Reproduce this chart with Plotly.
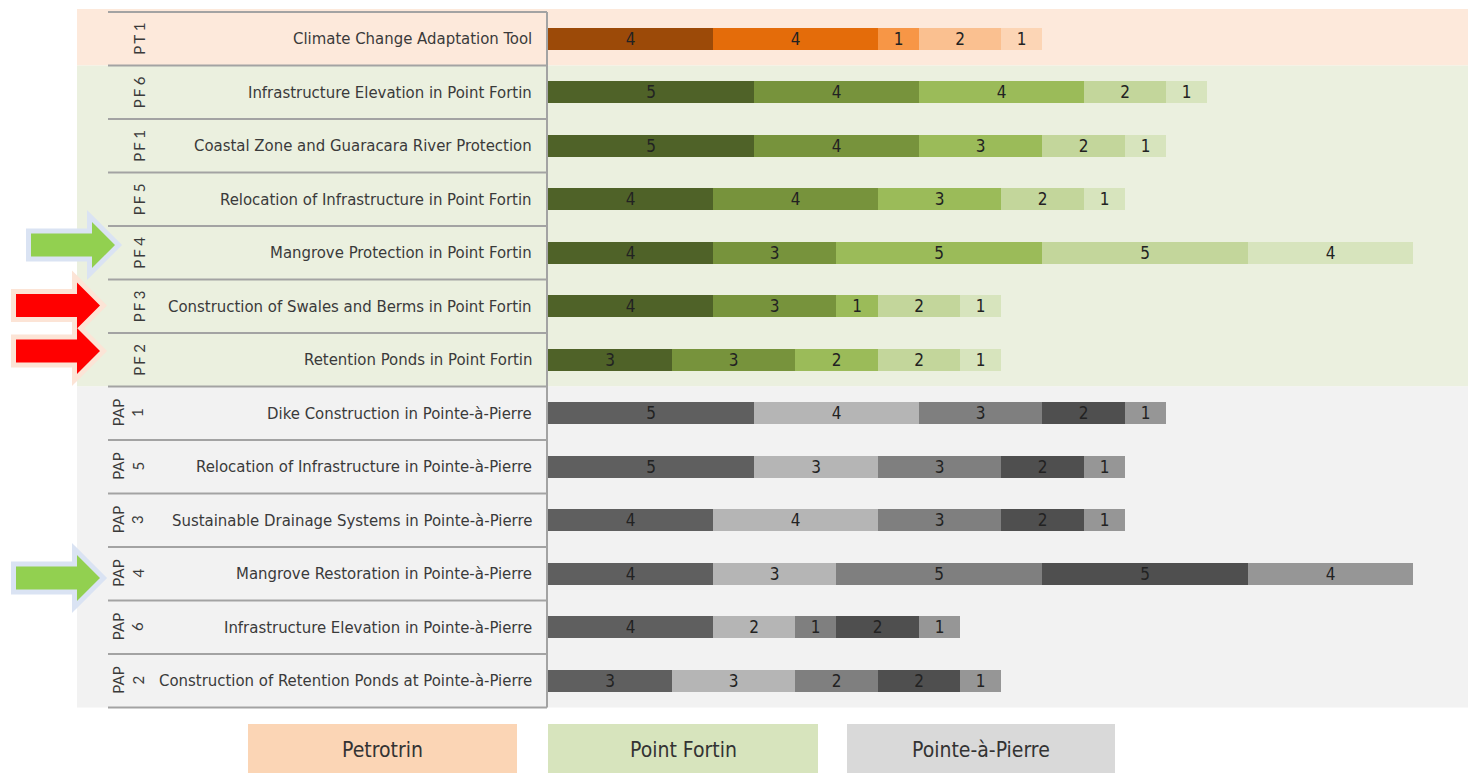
import plotly.graph_objects as go

W, H = 1468, 773

# ---------------- data ----------------
codes = ["PT 1", "PF 6", "PF 1", "PF 5", "PF 4", "PF 3", "PF 2",
         "PAP<br>1", "PAP<br>5", "PAP<br>3", "PAP<br>4", "PAP<br>6", "PAP<br>2"]
names = ["Climate Change Adaptation Tool",
         "Infrastructure Elevation in Point Fortin",
         "Coastal Zone and Guaracara River Protection",
         "Relocation of Infrastructure in Point Fortin",
         "Mangrove Protection in Point Fortin",
         "Construction of Swales and Berms in Point Fortin",
         "Retention Ponds in Point Fortin",
         "Dike Construction in Pointe-à-Pierre",
         "Relocation of Infrastructure in Pointe-à-Pierre",
         "Sustainable Drainage Systems in Pointe-à-Pierre",
         "Mangrove Restoration in Pointe-à-Pierre",
         "Infrastructure Elevation in Pointe-à-Pierre",
         "Construction of Retention Ponds at Pointe-à-Pierre"]
groups = ["PT", "PF", "PF", "PF", "PF", "PF", "PF",
          "PAP", "PAP", "PAP", "PAP", "PAP", "PAP"]

seg1 = [4, 5, 5, 4, 4, 4, 3, 5, 5, 4, 4, 4, 3]
seg2 = [4, 4, 4, 4, 3, 3, 3, 4, 3, 4, 3, 2, 3]
seg3 = [1, 4, 3, 3, 5, 1, 2, 3, 3, 3, 5, 1, 2]
seg4 = [2, 2, 2, 2, 5, 2, 2, 2, 2, 2, 5, 2, 2]
seg5 = [1, 1, 1, 1, 4, 1, 1, 1, 1, 1, 4, 1, 1]
segments = [seg1, seg2, seg3, seg4, seg5]

legend_labels = ["Petrotrin", "Point Fortin", "Pointe-à-Pierre"]

# ---------------- styles ----------------
palette = {
    "PT": ["#9C4A08", "#E46C0A", "#F79646", "#FAC090", "#FCD5B5"],
    "PF": ["#4F6228", "#77933C", "#9BBB59", "#C3D69B", "#D7E4BD"],
    "PAP": ["#5F5F5F", "#B5B5B5", "#7F7F7F", "#4F4F4F", "#969696"],
}
band_colors = {"PT": "#FDE9DB", "PF": "#EBF0DF", "PAP": "#F2F2F2"}
legend_colors = ["#FBD5B5", "#D7E4BD", "#D9D9D9"]

NARROW = "DejaVu Sans Condensed, Liberation Sans Narrow, sans-serif"
GEO = "Lato, Noto Sans, sans-serif"

# pixel geometry
X0_PX = 548.0          # x = 0
UNIT_PX = 41.2         # px per unit
ROW_TOP = 12.0
ROW_H = 53.5
x_range = [-X0_PX / UNIT_PX, (W - X0_PX) / UNIT_PX]
y_top = -(ROW_H / 2) / ROW_H - ROW_TOP / ROW_H
y_range = [y_top + H / ROW_H, y_top]


def px(xp):
    return xp / W


def py(yp):
    return 1 - yp / H


rows = list(range(len(names)))

fig = go.Figure()

for k, seg in enumerate(segments):
    fig.add_trace(go.Bar(
        y=rows, x=seg, orientation="h", width=0.42,
        marker=dict(color=[palette[g][k] for g in groups], line=dict(width=0)),
        text=[str(v) for v in seg], textposition="inside",
        insidetextanchor="middle", textangle=0, constraintext="none",
        textfont=dict(family=NARROW, size=17, color="#222222"),
        hoverinfo="skip",
    ))

shapes = []
# background bands
first = {}
last = {}
for i, g in enumerate(groups):
    first.setdefault(g, i)
    last[g] = i
for g in ["PT", "PF", "PAP"]:
    top = ROW_TOP + first[g] * ROW_H - (3 if g == "PT" else 0)
    bot = ROW_TOP + (last[g] + 1) * ROW_H
    shapes.append(dict(type="rect", xref="paper", yref="paper",
                       x0=px(77), x1=1.0, y0=py(bot), y1=py(top),
                       fillcolor=band_colors[g], line=dict(width=0), layer="below"))

# table lines
for k in range(len(names) + 1):
    yy = ROW_TOP + k * ROW_H
    shapes.append(dict(type="line", xref="paper", yref="paper",
                       x0=px(108), x1=px(547), y0=py(yy), y1=py(yy),
                       line=dict(color="#A3A3A3", width=2), layer="above"))
shapes.append(dict(type="line", xref="paper", yref="paper",
                   x0=px(547), x1=px(547), y0=py(ROW_TOP),
                   y1=py(ROW_TOP + len(names) * ROW_H),
                   line=dict(color="#A3A3A3", width=2), layer="above"))


# arrows
def arrow_path(tip, cy):
    pts = [(tip - 84, cy - 11.5), (tip - 23, cy - 11.5), (tip - 23, cy - 23),
           (tip, cy), (tip - 23, cy + 23), (tip - 23, cy + 11.5),
           (tip - 84, cy + 11.5)]
    return "M " + " L ".join(f"{px(a):.5f},{py(b):.5f}" for a, b in pts) + " Z"


arrows = [(115, 245, "#92D050", "#DAE3F3"),
          (100, 305.5, "#FF0000", "#FCE4D6"),
          (100, 351, "#FF0000", "#FCE4D6"),
          (100, 578, "#92D050", "#DAE3F3")]
for tip, cy, fc, oc in arrows:
    p = arrow_path(tip, cy)
    shapes.append(dict(type="path", xref="paper", yref="paper", path=p,
                       fillcolor=oc, line=dict(color=oc, width=10), layer="above"))
for tip, cy, fc, oc in arrows:
    p = arrow_path(tip, cy)
    shapes.append(dict(type="path", xref="paper", yref="paper", path=p,
                       fillcolor=fc, line=dict(width=0), layer="above"))

# legend boxes
legend_x = [(248, 517), (548, 818), (847, 1115)]
for (a, b), c in zip(legend_x, legend_colors):
    shapes.append(dict(type="rect", xref="paper", yref="paper",
                       x0=px(a), x1=px(b), y0=0, y1=py(724),
                       fillcolor=c, line=dict(width=0), layer="above"))

annotations = []
for i in rows:
    annotations.append(dict(x=px(534), y=i, xref="paper", yref="y",
                            text=names[i], showarrow=False, xanchor="right",
                            yanchor="middle",
                            font=dict(family=NARROW, size=16.6, color="#3A3A3A")))
    is_pap = groups[i] == "PAP"
    code_txt = codes[i] if is_pap else codes[i].replace(" ", "\u2009\u2009").replace("P", "P\u2009", 1)
    annotations.append(dict(x=px(128 if is_pap else 139), y=i, xref="paper", yref="y",
                            text=code_txt, showarrow=False, textangle=-90,
                            xanchor="center", yanchor="middle",
                            font=dict(family=GEO, size=15, color="#3A3A3A")))

for (a, b), lab in zip(legend_x, legend_labels):
    annotations.append(dict(x=px((a + b) / 2), y=py(750), xref="paper", yref="paper",
                            text=lab, showarrow=False, xanchor="center",
                            yanchor="middle",
                            font=dict(family=NARROW, size=21, color="#333333")))

fig.update_layout(
    width=W, height=H, margin=dict(l=0, r=0, t=0, b=0),
    barmode="stack", bargap=0, showlegend=False,
    paper_bgcolor="white", plot_bgcolor="rgba(0,0,0,0)",
    xaxis=dict(range=x_range, visible=False, fixedrange=True),
    yaxis=dict(range=y_range, visible=False, fixedrange=True),
    shapes=shapes, annotations=annotations,
)

fig.write_html("out.html")
